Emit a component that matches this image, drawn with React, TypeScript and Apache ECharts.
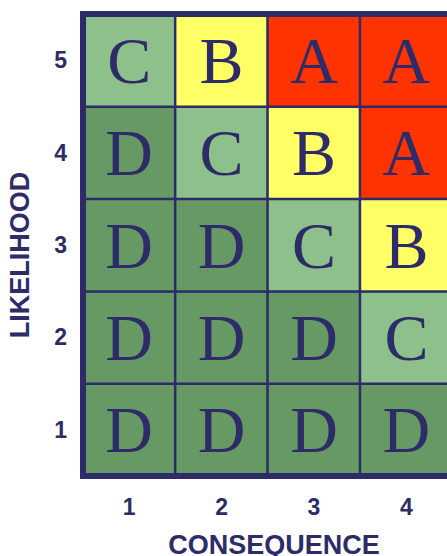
import React, { useEffect, useRef } from "react";
import * as echarts from "echarts";

const consequenceLabels = ["1", "2", "3", "4", "5"];
const likelihoodLabels = ["1", "2", "3", "4", "5"];

// Risk ratings per likelihood row (1..5), columns = consequence 1..4 (visible part)
const likelihood1 = ["D", "D", "D", "D"];
const likelihood2 = ["D", "D", "D", "C"];
const likelihood3 = ["D", "D", "C", "B"];
const likelihood4 = ["D", "C", "B", "A"];
const likelihood5 = ["C", "B", "A", "A"];

const ratingRows = [likelihood1, likelihood2, likelihood3, likelihood4, likelihood5];
const ratingLevels = ["D", "C", "B", "A"];

const NAVY = "#2d2c69";
const COLORS: Record<string, string> = {
  A: "#ff3300",
  B: "#ffff66",
  C: "#8dc08b",
  D: "#679965",
};

export default function App() {
  const ref = useRef<HTMLDivElement>(null);

  useEffect(() => {
    if (!ref.current) return;
    const chart = echarts.init(ref.current, null, { renderer: "svg" });

    const data: any[] = [];
    ratingRows.forEach((row, y) => {
      row.forEach((letter, x) => {
        data.push({
          value: [x, y, ratingLevels.indexOf(letter)],
          letter,
        });
      });
    });

    const axisLine = {
      show: true,
      lineStyle: { color: NAVY, width: 6, cap: "square" },
    };
    const tickLabel = {
      color: NAVY,
      fontFamily: "Liberation Sans, Arial, sans-serif",
      fontWeight: "bold",
      fontSize: 23,
    };
    const nameStyle = {
      color: NAVY,
      fontFamily: "Liberation Sans, Arial, sans-serif",
      fontWeight: "bold",
      fontSize: 27,
    };

    chart.setOption({
      animation: false,
      backgroundColor: "#ffffff",
      grid: {
        left: 83,
        top: 14,
        width: 462,
        height: 462,
        containLabel: false,
        outerBoundsMode: "none",
      },
      visualMap: {
        type: "piecewise",
        show: false,
        dimension: 2,
        seriesIndex: 0,
        pieces: ratingLevels.map((l, i) => ({ value: i, color: COLORS[l] })),
      },
      xAxis: [
        {
          type: "category",
          data: consequenceLabels,
          position: "bottom",
          z: 10,
          axisLine,
          axisTick: { show: false },
          splitLine: { show: false },
          axisLabel: { ...tickLabel, margin: 19, showMaxLabel: false },
          name: "CONSEQUENCE",
          nameLocation: "middle",
          nameGap: 55,
          nameTextStyle: { ...nameStyle, padding: [0, 80, 0, 0] },
        },
        {
          type: "category",
          data: consequenceLabels,
          position: "top",
          z: 10,
          axisLine,
          axisTick: { show: false },
          axisLabel: { show: false },
          splitLine: { show: false },
        },
      ],
      yAxis: [
        {
          type: "category",
          data: likelihoodLabels,
          position: "left",
          z: 10,
          axisLine,
          axisTick: { show: false },
          splitLine: { show: false },
          axisLabel: { ...tickLabel, margin: 16 },
          name: "LIKELIHOOD",
          nameLocation: "middle",
          nameGap: 50,
          nameTextStyle: { ...nameStyle, padding: [0, 20, 0, 0] },
        },
      ],
      series: [
        {
          type: "heatmap",
          xAxisIndex: 0,
          yAxisIndex: 0,
          data,
          itemStyle: { borderColor: NAVY, borderWidth: 2.5 },
          label: {
            show: true,
            formatter: (p: any) => p.data.letter,
            color: NAVY,
            fontFamily: "Liberation Serif, Times New Roman, serif",
            fontSize: 66,
          },
          emphasis: { disabled: true },
        },
      ],
    });

    return () => chart.dispose();
  }, []);

  return (
    <div
      ref={ref}
      style={{ position: "fixed", left: 0, top: 0, width: 447, height: 556 }}
    />
  );
}
